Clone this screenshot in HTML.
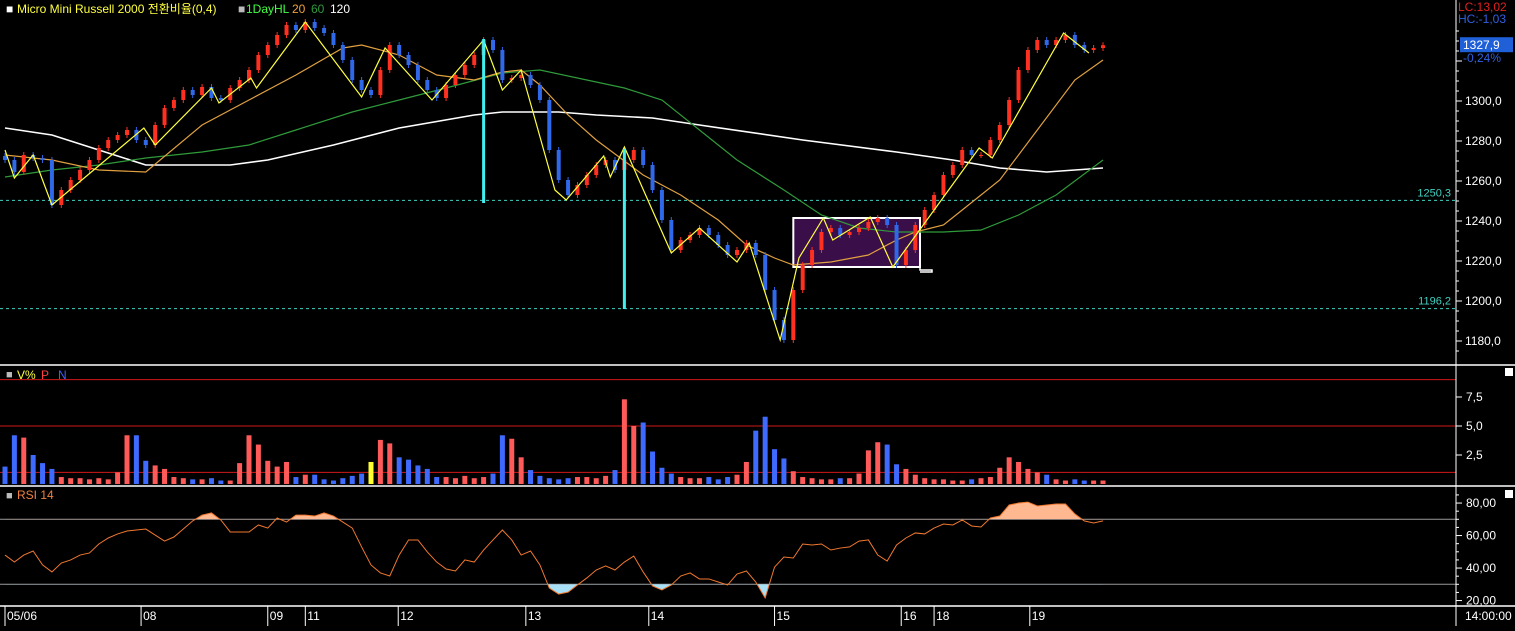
<!DOCTYPE html>
<html><head><meta charset="utf-8">
<style>
html,body{margin:0;padding:0;background:#000;}
body{width:1515px;height:626px;overflow:hidden;font-family:"Liberation Sans","Noto Sans CJK KR",sans-serif;}
svg text{font-family:"Liberation Sans","Noto Sans CJK KR",sans-serif;}
</style></head>
<body>
<svg id="chart" width="1515" height="626" viewBox="0 0 1515 626" xmlns="http://www.w3.org/2000/svg">
<rect x="0" y="0" width="1515" height="626" fill="#000"/>
<g id="grid"></g>
<g id="main"></g>
<g id="vol"></g>
<g id="rsi"></g>
<g id="axes"></g>
<text x="6" y="13" font-size="12" fill="#fff">■</text>
<text x="17" y="13" font-size="12" fill="#ffff40">Micro Mini Russell 2000 전환비율(0,4)</text>
<text x="238" y="13" font-size="12" fill="#bbb">■</text>
<text x="246" y="13" font-size="12" fill="#40ff40">1DayHL</text>
<text x="292" y="13" font-size="12" fill="#f0a040">20</text>
<text x="311" y="13" font-size="12" fill="#2f9a3a">60</text>
<text x="330" y="13" font-size="12" fill="#fff">120</text>
<text x="1458" y="11" font-size="12" fill="#e02020">LC:13,02</text>
<text x="1458" y="23" font-size="12" fill="#3060e0">HC:-1,03</text>
<text x="6" y="378" font-size="11" fill="#bbb">■</text>
<text x="17" y="379" font-size="12" fill="#ffff40">V%</text>
<text x="41" y="379" font-size="12" fill="#ff4040">P</text>
<text x="58" y="379" font-size="12" fill="#4060ff">N</text>
<text x="6" y="499" font-size="11" fill="#bbb">■</text>
<text x="17" y="499" font-size="12" fill="#f08040">RSI 14</text>
<rect x="1505" y="368" width="8" height="8" fill="#fff"/>
<rect x="1505" y="490" width="8" height="8" fill="#fff"/>
</svg>
<script>
// ---- data ----
const closes = [1270.5,1264.5,1273,1271.5,1270.5,1248,1255.5,1260.5,1265.5,1270.5,
1276.5,1280.5,1283,1285.5,1280.5,1278,1288,1296.5,1300.5,1305.5,
1303,1307,1301.5,1300.5,1306.5,1310.5,1315.5,1323,1328,1333,
1338,1335.5,1339.5,1336.5,1334,1328,1320.5,1310.5,1305.5,1303,
1315.5,1328,1323,1318,1310.5,1305.5,1301.5,1308,1313,1318,
1323,1330.5,1325.5,1310.5,1311.5,1313,1308,1300.5,1275.5,1260.5,
1253,1258,1263,1268,1270.5,1265.5,1270.5,1275.5,1268,1255.5,
1240.5,1225.5,1230.5,1233,1236.5,1233,1228,1223,1225.5,1229,
1223,1205.5,1190.5,1180.5,1205.5,1218,1225.5,1234.5,1236.5,1233,
1234.5,1236.5,1239.5,1241.5,1238,1218,1225.5,1238,1245.5,1253,
1263,1268,1275.5,1273,1273,1280.5,1288,1300.5,1315.5,1325.5,
1330.5,1328,1330.5,1333,1328,1325.5,1326.5,1327.9];
const ma120Idx = [0,5,10,15,24,28,35,42,50,53,59,63,69,74,85,95,101,106,111,117];
const ma120Val = [1286.5,1283,1275.5,1268,1268,1270.5,1278,1286.5,1293,1294.5,1294.5,1293,1291.5,1288,1280.5,1274.5,1270.5,1266.5,1264.5,1266.5];
const ma60Idx = [0,5,10,15,21,26,31,37,42,47,53,57,61,66,70,74,78,83,87,91,95,100,104,108,112,117];
const ma60Val = [1262,1265.5,1268,1271.5,1274.5,1278,1285.5,1294.5,1300.5,1306.5,1314,1315.5,1311.5,1306.5,1300.5,1285.5,1270.5,1255.5,1243,1236.5,1234.5,1234.5,1235.5,1243,1253,1270.5];
const ma20Idx = [0,5,10,15,21,26,31,36,38,42,46,50,53,55,57,60,63,68,72,76,79,82,84,88,92,95,97,100,102,106,110,114,117];
const ma20Val = [1273,1270.5,1265.5,1264.5,1288,1300.5,1313,1326.5,1328,1323,1313,1310.5,1314.5,1315.5,1308,1293,1280.5,1263,1253,1240.5,1228,1221.5,1218,1219.5,1223,1230.5,1234.5,1238,1245.5,1260.5,1285.5,1310.5,1320.5];
const zzIdx = [0,1,3,5,14.8,16,22,22.8,26.2,26.8,32,38,40.5,45.5,51,53,55,58.6,59.8,63.8,64.5,66,71,74,78,79.3,82.6,84.6,87.2,88.2,92.2,94.6,103.8,105.2,112.8,115.5];
const zzVal = [1275.5,1261.5,1273,1248,1286.5,1278,1306.5,1299,1311.5,1306.5,1339.5,1302,1326.5,1300.5,1330.5,1305.5,1315.5,1255.5,1250.5,1272.5,1262,1277,1224,1236.5,1219.5,1229,1180.5,1221.5,1241.5,1230.5,1242,1217,1276.5,1271.5,1334,1324];
const volumes = [1.5,4.2,4.0,2.5,1.8,1.3,0.6,0.5,0.5,0.4,
0.5,0.4,1.0,4.2,4.2,2.0,1.6,1.3,0.6,0.5,
0.4,0.4,0.5,0.3,0.3,1.8,4.2,3.4,2.0,1.5,
1.9,0.6,0.8,0.8,0.4,0.3,0.5,0.7,0.9,1.9,
3.8,3.5,2.3,2.1,1.6,1.3,0.6,0.6,0.5,0.7,
0.5,0.6,0.9,4.2,3.9,2.3,1.2,0.7,0.5,0.4,
0.5,0.6,0.6,0.5,0.7,1.2,7.3,5.0,5.3,2.8,
1.4,0.9,0.6,0.5,0.5,0.6,0.4,0.6,0.8,1.9,
4.6,5.8,3.0,2.2,1.1,0.6,0.5,0.4,0.4,0.5,
0.5,0.9,2.9,3.6,3.4,1.7,1.3,0.8,0.5,0.4,
0.4,0.3,0.3,0.4,0.5,0.6,1.4,2.3,1.9,1.3,
1.0,0.8,0.4,0.3,0.4,0.3,0.3,0.3];
const rsiVals = [48,43.7,48,50.5,41.9,37.6,43.1,45,48,49.3,
54.8,58.5,61,62.8,63.4,64,60.3,56.6,59.1,64,
69,72.6,73.9,69.6,62.2,62.2,62.2,66.5,64.6,70.8,
68.3,72.6,72.6,72,73.9,72,68.3,64.6,53,41.9,
37,35.1,48,57.3,57.3,49.9,43.7,39.4,38.2,45,
43.7,51.1,57.3,63.4,57.3,48,50.5,41.9,27.7,24,
25.2,29.6,33.9,38.8,41.3,38.8,43.7,47.4,37.6,29,
26.5,29.6,35.1,37,33.3,33.3,31.4,29.6,36.3,38.2,
31.4,21.6,40.6,46.8,46.2,54.8,54.2,54.8,51.1,52.3,
53,56.6,57.3,48,44.3,54.2,58.5,61.6,61,64.6,
67.1,66.5,69.6,65.9,65.3,70.8,72,78.8,80,80.6,
78.2,78.8,79.4,79.4,73.3,69,67.7,69];
const priceTicks = [1180,1200,1220,1240,1260,1280,1300];
const volTicks = [2.5,5.0,7.5];
const volLines = [1,5,9];
const rsiTicks = [20,40,60,80];
const rsiLines = [30,70];
const hLines = [1250.3,1196.2];
const vSpikeIdx = [51,66];
const vSpikeTop = [1331,1276];
const vSpikeBot = [1249,1196];
const boxIdx = [84,97.5];
const boxPrice = [1241.5,1217];
const highlightVolIdx = 39;
const dateLabels = ["05/06","08","09","11","12","13","14","15","16","18","19"];
const dateIdx = [0,14.5,28,32,41.9,55.5,68.6,82,95.5,99,109.2];

// ---- scales ----
const X0 = 5, DX = (1103-5)/(closes.length-1);
const xs = i => X0 + i*DX;
const py = p => 101 + (1300-p)*2;
const vy = v => 484 - v*11.6;
const ry = r => 519.3 - (r-70)*1.625;
const NS = "http://www.w3.org/2000/svg";
function mk(tag, attrs, parent){const e=document.createElementNS(NS,tag);for(const k in attrs)e.setAttribute(k,attrs[k]);parent.appendChild(e);return e;}
const fmt = (v,d) => v.toFixed(d).replace('.',',');
const main = document.getElementById('main'), vol=document.getElementById('vol'), rsi=document.getElementById('rsi'), axes=document.getElementById('axes'), grid=document.getElementById('grid');

// panel separators
[365,486,606].forEach((y,k)=>{const l=mk('line',{x1:0,y1:y,x2:1515,y2:y,stroke:'#fff','stroke-width':1.5},axes);

});
const ax=mk('line',{x1:1456,y1:0,x2:1456,y2:626,stroke:'#fff','stroke-width':1},axes);



// horizontal dashed lines
hLines.forEach(v=>{const l=mk('line',{x1:0,y1:py(v),x2:1456,y2:py(v),stroke:'#40d0c0','stroke-dasharray':'3,3','stroke-width':1},grid);


const t=mk('text',{x:1451,y:py(v)-4,'font-size':11,fill:'#40d0c0','text-anchor':'end'},grid);t.textContent=fmt(v,1);

});

// box
const bx=mk('rect',{x:xs(boxIdx[0]),y:py(boxPrice[0]),width:xs(boxIdx[1])-xs(boxIdx[0]),height:py(boxPrice[1])-py(boxPrice[0]),fill:'#3a0e48',stroke:'#fff','stroke-width':2},main);


const hk=mk('polyline',{points:`${xs(boxIdx[1])},${py(boxPrice[1])} ${xs(boxIdx[1])},${py(boxPrice[1])+3} ${xs(boxIdx[1])+12},${py(boxPrice[1])+3} ${xs(boxIdx[1])+12},${py(boxPrice[1])+5} ${xs(boxIdx[1])},${py(boxPrice[1])+5}`,fill:'none',stroke:'#fff','stroke-width':1.5},main);



// moving averages
function line(idx,vals,color,name,w){const pts=idx.map((i,k)=>xs(i)+','+py(vals[k])).join(' ');const p=mk('polyline',{points:pts,fill:'none',stroke:color,'stroke-width':w},main);

}
line(ma120Idx,ma120Val,'#ffffff','ma120-line',1.6);
line(ma60Idx,ma60Val,'#2f9a3a','ma60-line',1.2);
line(ma20Idx,ma20Val,'#e0a040','ma20-line',1.2);

// candles
closes.forEach((c,i)=>{const o = i===0? c+2 : closes[i-1];
const up=c>=o, col= up?'#ff3020':'#2f68e8';
const hi=Math.max(o,c)+1.5, lo=Math.min(o,c)-1.5, x=xs(i);
const w=mk('line',{x1:x,y1:py(hi),x2:x,y2:py(lo),stroke:col,'stroke-width':1},main);


const b=mk('rect',{x:x-2,y:py(Math.max(o,c)),width:4,height:Math.max(1,Math.abs(py(o)-py(c))),fill:col},main);

});

// zigzag
line(zzIdx,zzVal,'#ffff40','zigzag-line',1.2);

// cyan spikes
vSpikeIdx.forEach((i,k)=>{const l=mk('line',{x1:xs(i),y1:py(vSpikeTop[k]),x2:xs(i),y2:py(vSpikeBot[k]),stroke:'#40f0f0','stroke-width':3},main);

});

// price axis
for(let p=1175;p<=1335;p+=5){const y=py(p);if(y<2||y>362)continue;mk('line',{x1:1456,y1:y,x2:(p%20===0)?1462:1459,y2:y,stroke:'#fff'},axes);}
priceTicks.forEach(p=>{const t=mk('text',{x:1465,y:py(p)+4,'font-size':12,fill:'#fff'},axes);t.textContent=fmt(p,1);

});
const last=closes[closes.length-1];
const lb=mk('rect',{x:1460,y:py(last)-8,width:53,height:15,fill:'#1f5fd8'},axes);


const lt=mk('text',{x:1463,y:py(last)+4,'font-size':12,fill:'#fff'},axes);lt.textContent=fmt(last,1);


const pc=mk('text',{x:1463,y:py(last)+17,'font-size':12,fill:'#3060e0'},axes);pc.textContent='-0,24%';



// volume
volLines.forEach(v=>{const l=mk('line',{x1:0,y1:vy(v),x2:1456,y2:vy(v),stroke:'#d01818','stroke-width':1},vol);

});
volumes.forEach((v,i)=>{const o=i===0?closes[0]+2:closes[i-1];let col=closes[i]>=o?'#ff5a5a':'#3f6aff';if(i===highlightVolIdx)col='#ffff30';
const r=mk('rect',{x:xs(i)-2.5,y:vy(v),width:5,height:484-vy(v),fill:col},vol);

});
volTicks.forEach(v=>{mk('line',{x1:1456,y1:vy(v),x2:1462,y2:vy(v),stroke:'#fff'},axes);const t=mk('text',{x:1466,y:vy(v)+4,'font-size':12,fill:'#fff'},axes);t.textContent=fmt(v,1);

});

// rsi
rsiLines.forEach(v=>{const l=mk('line',{x1:0,y1:ry(v),x2:1456,y2:ry(v),stroke:'#999','stroke-width':1},rsi);

});
const defs=mk('defs',{},rsi);
const c1=mk('clipPath',{id:'above'},defs);mk('rect',{x:0,y:486,width:1456,height:ry(70)-486},c1);
const c2=mk('clipPath',{id:'below'},defs);mk('rect',{x:0,y:ry(30),width:1456,height:606-ry(30)},c2);
const pts=rsiVals.map((r,i)=>xs(i)+','+ry(r));
const n=rsiVals.length-1;
const a1=mk('polygon',{points:xs(0)+','+ry(70)+' '+pts.join(' ')+' '+xs(n)+','+ry(70),fill:'#ffb890','clip-path':'url(#above)'},rsi);


const a2=mk('polygon',{points:xs(0)+','+ry(30)+' '+pts.join(' ')+' '+xs(n)+','+ry(30),fill:'#a8e0f8','clip-path':'url(#below)'},rsi);


const rl=mk('polyline',{points:pts.join(' '),fill:'none',stroke:'#f07830','stroke-width':1},rsi);


for(let r=15;r<=85;r+=5){const y=ry(r);if(y<488||y>604)continue;mk('line',{x1:1456,y1:y,x2:(r%20===0)?1462:1459,y2:y,stroke:'#fff'},axes);}
rsiTicks.forEach(v=>{const t=mk('text',{x:1466,y:ry(v)+4,'font-size':12,fill:'#fff'},axes);t.textContent=fmt(v,2);

});

// x axis
dateLabels.forEach((d,k)=>{const x=xs(dateIdx[k]);mk('line',{x1:x,y1:606,x2:x,y2:626,stroke:'#fff'},axes);
const t=mk('text',{x:x+2,y:620,'font-size':12,fill:'#fff'},axes);t.textContent=d;

});
const tt=mk('text',{x:1465,y:620,'font-size':12,fill:'#fff'},axes);tt.textContent='14:00:00';


</script>
</body></html>
